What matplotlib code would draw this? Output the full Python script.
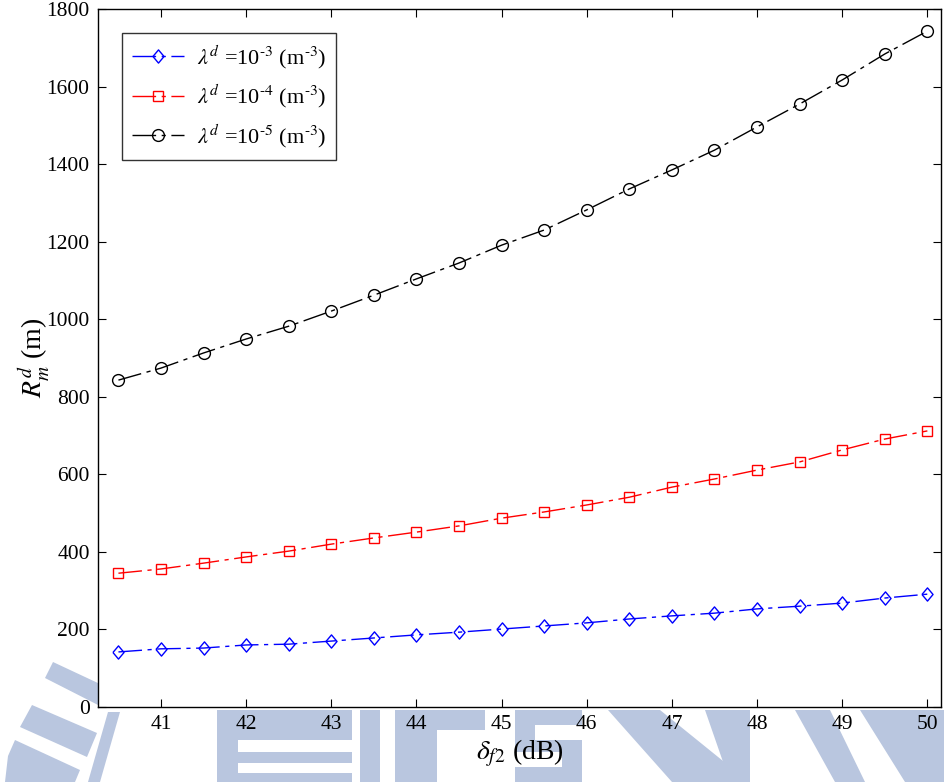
import matplotlib
matplotlib.use('Agg')
import matplotlib.pyplot as plt
from matplotlib.patches import Polygon

plt.rcParams['font.family'] = ['Liberation Serif', 'DejaVu Serif']
plt.rcParams['mathtext.fontset'] = 'stix'

delta_f2 = [40.5, 41, 41.5, 42, 42.5, 43, 43.5, 44, 44.5, 45,
            45.5, 46, 46.5, 47, 47.5, 48, 48.5, 49, 49.5, 50]

r_1e3 = [142, 150, 152, 160, 162, 170, 178, 186, 193, 201,
         209, 217, 227, 235, 242, 253, 260, 268, 281, 291]
r_1e4 = [345, 356, 371, 387, 402, 420, 436, 451, 467, 487,
         503, 521, 541, 567, 588, 611, 632, 663, 691, 712]
r_1e5 = [843, 874, 913, 949, 982, 1021, 1062, 1104, 1145, 1191,
         1230, 1282, 1336, 1385, 1436, 1496, 1555, 1617, 1684, 1743]

labels = [r'$\lambda^d$ =10$^{\text{-3}}$ (m$^{\text{-3}}$)',
          r'$\lambda^d$ =10$^{\text{-4}}$ (m$^{\text{-3}}$)',
          r'$\lambda^d$ =10$^{\text{-5}}$ (m$^{\text{-3}}$)']

W, H = 944, 782
fig = plt.figure(figsize=(W / 100, H / 100), dpi=100)

# faint watermark behind the figure (pixel coords, y down)
wm_color = '#b9c6df'
watermark = [
    [(45, 678), (53, 662), (100, 684), (100, 706)],
    [(20, 727), (32, 705), (97, 733), (87, 757)],
    [(8, 756), (15, 740), (80, 770), (75, 782), (5, 782)],
    [(88, 782), (108, 712), (120, 712), (100, 782)],
    [(217, 710), (238, 710), (238, 782), (217, 782)],
    [(238, 710), (352, 710), (352, 740), (238, 740)],
    [(238, 752), (352, 752), (352, 763), (238, 763)],
    [(238, 773), (352, 773), (352, 782), (238, 782)],
    [(360, 710), (380, 710), (380, 782), (360, 782)],
    [(395, 710), (485, 710), (485, 730), (437, 730), (437, 782), (395, 782)],
    [(515, 710), (582, 710), (582, 725), (535, 725), (535, 740), (582, 740),
     (582, 782), (515, 782), (515, 767), (562, 767), (562, 752), (515, 752)],
    [(608, 710), (660, 710), (749, 782), (672, 782)],
    [(705, 710), (750, 710), (750, 782), (730, 782)],
    [(795, 710), (830, 710), (865, 782), (835, 782)],
    [(860, 710), (944, 710), (944, 782), (905, 782)],
]
for pts in watermark:
    fig.patches.append(Polygon([(x / W, 1 - y / H) for x, y in pts],
                               closed=True, transform=fig.transFigure,
                               facecolor=wm_color, edgecolor='none', zorder=-5))

ax = fig.add_axes([98 / W, (H - 707) / H, (941 - 98) / W, 698 / H])
ax.set_zorder(2)
ax.set_facecolor('white')

ls = (0, (17, 4, 3, 4))
diamond = [(-0.42, 0), (0, 0.5), (0.42, 0), (0, -0.5), (-0.42, 0)]
ax.plot(delta_f2, r_1e3, color='blue', linestyle=ls, linewidth=1,
        marker=diamond, markersize=9.5, markerfacecolor='none',
        markeredgecolor='blue', label=labels[0])
ax.plot(delta_f2, r_1e4, color='red', linestyle=ls, linewidth=1,
        marker='s', markersize=7.8, markerfacecolor='none',
        markeredgecolor='red', label=labels[1])
ax.plot(delta_f2, r_1e5, color='black', linestyle=ls, linewidth=1,
        marker='o', markersize=8.5, markerfacecolor='none',
        markeredgecolor='black', label=labels[2])

ax.set_xlim(40.26, 50.16)
ax.set_ylim(0, 1800)
ax.set_xticks([41, 42, 43, 44, 45, 46, 47, 48, 49, 50])
ax.set_yticks(range(0, 1801, 200))
ax.tick_params(direction='in', length=6, width=0.8, top=True, right=True,
               labelsize=15.5, pad=6)
for s in ax.spines.values():
    s.set_linewidth(1.0)

ax.set_xlabel(r'$\delta_{f2}$ (dB)', fontsize=20, labelpad=2)
ax.set_ylabel(r'$R_m^d$ (m)', fontsize=20, labelpad=-4)

leg = ax.legend(loc='upper left', fontsize=16, frameon=True, fancybox=False,
                edgecolor='black', handlelength=2.3, borderaxespad=1.1,
                labelspacing=0.55, borderpad=0.45, handletextpad=0.6)
leg.get_frame().set_linewidth(1.0)

fig.savefig('out.png', dpi=100)
